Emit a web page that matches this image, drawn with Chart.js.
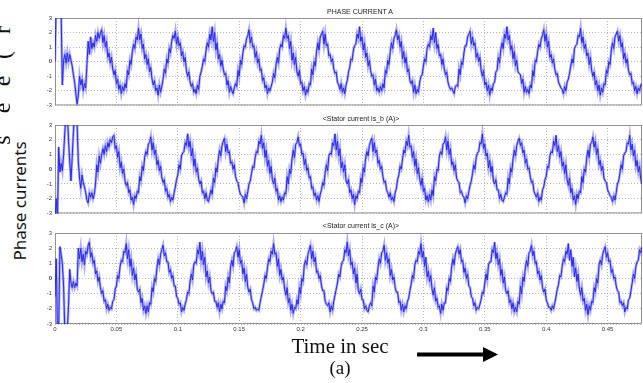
<!DOCTYPE html>
<html lang="en">
<head>
<meta charset="UTF-8">
<title>Phase currents</title>
<script src="https://cdn.jsdelivr.net/npm/chart.js"></script>
<style>
  body { margin: 0; background: #fff; }
  #page { position: relative; width: 643px; height: 383px; overflow: hidden; background: #fff; }
  .panel { position: absolute; left: 40px; width: 603px; }
  .ttl { position: absolute; width: 200px; text-align: center; font: 7px "Liberation Sans", sans-serif; color: #222; }
  .side { position: absolute; font: 17px "Noto Sans", sans-serif; color: #111; white-space: nowrap; transform: translate(-50%, -50%) rotate(-90deg); }
  .cut { position: absolute; font: 24px "Liberation Serif", serif; color: #111; transform: translate(-50%, -50%) rotate(-90deg); }
  .serif { position: absolute; font-family: "Liberation Serif", serif; color: #111; text-align: center; width: 200px; }
</style>
</head>
<body>
<div id="page">
  <div class="panel" style="top:0px;height:112px"><canvas id="pA" width="603" height="112"></canvas></div>
  <div class="panel" style="top:107px;height:113px"><canvas id="pB" width="603" height="113"></canvas></div>
  <div class="panel" style="top:215px;height:130px"><canvas id="pC" width="603" height="130"></canvas></div>

  <div class="ttl" style="left:260px;top:8px">PHASE CURRENT A</div>
  <div class="ttl" style="left:261px;top:115px">&lt;Stator current is_b (A)&gt;</div>
  <div class="ttl" style="left:261px;top:222px">&lt;Stator current is_c (A)&gt;</div>

  <div class="side" style="left:19px;top:201px">Phase currents</div>

  <div class="cut" style="left:2px;top:30px">r</div>
  <div class="cut" style="left:2px;top:55px">(</div>
  <div class="cut" style="left:2px;top:81px">e</div>
  <div class="cut" style="left:2px;top:108px">e</div>
  <div class="cut" style="left:2px;top:140px">s</div>

  <div class="serif" style="left:240px;top:334px;font-size:21px">Time in sec</div>
  <div class="serif" style="left:240px;top:357px;font-size:19px">(a)</div>
  <svg style="position:absolute;left:0;top:0" width="643" height="383">
    <line x1="417" y1="354.5" x2="485" y2="354.5" stroke="#000" stroke-width="4"/>
    <polygon points="483,347 498,354.5 483,362" fill="#000"/>
  </svg>
</div>

<script>
// sampling step of the recorded currents (s)
const dt = 0.001;
const tMax = 0.478;
const xTicks = [0, 0.05, 0.1, 0.15, 0.2, 0.25, 0.3, 0.35, 0.4, 0.45];
const yTicks = [-3, -2, -1, 0, 1, 2, 3];

// phase A current (A), top plot: start-up transient, then one row per cycle
const phaseA = [
  0.0, 4.0, 4.5, 4.5, 4.0, 3.2, -1.6, 0.1, 0.5, -0.1, 0.6, 0.0, 0.5, 0.1, -0.3, -0.9, -1.4, -2.2, -2.9, -2.3,
  -1.0, -1.6, -1.2, -2.0, -1.5, -1.8, -0.2, 1.4, 0.5, 1.7, 0.9, 1.3, 1.0, 1.8, 1.4, 2.0, 1.6, 2.0,
  2.2, 1.3, 1.8, 1.0, 1.4, 0.3, 0.6, -0.1, 0.3, -0.5, -0.9, -0.6, -1.5, -1.2, -1.9, -1.6, -2.2, -1.7, -2.0, -1.5, -1.8, -0.6, -0.9, 0.1, -0.2, 0.7, 1.2, 0.9, 1.7, 1.5,
  2.3, 1.5, 1.9, 0.9, 1.2, 0.2, 0.5, -0.2, 0.2, -0.7, -0.4, -1.2, -1.6, -1.3, -2.0, -1.8, -2.3, -1.6, -2.1, -1.7, -1.2, -0.5, -0.8, 0.2, -0.1, 0.9, 0.6, 1.4, 1.8, 1.6,
  2.1, 1.2, 1.7, 1.1, 1.3, 0.4, 0.7, 0.0, 0.3, -0.6, -1.0, -0.7, -1.4, -1.7, -1.5, -2.1, -1.9, -2.2, -1.6, -1.9, -1.0, -0.7, -0.3, 0.2, 0.0, 0.8, 1.3, 1.0, 1.9, 1.5,
  2.4, 1.4, 2.0, 0.8, 1.3, 0.2, 0.5, -0.3, 0.1, -0.5, -0.9, -0.8, -1.6, -1.3, -2.1, -1.7, -2.0, -2.2, -1.8, -1.5, -1.7, -0.6, -1.0, 0.1, -0.2, 0.6, 1.1, 1.0, 1.6, 1.8,
  2.2, 1.3, 1.7, 1.0, 1.1, 0.3, 0.7, -0.1, 0.2, -0.6, -0.5, -1.3, -1.1, -1.8, -1.6, -2.2, -1.8, -2.0, -1.7, -1.4, -0.8, -1.1, -0.2, 0.3, -0.1, 0.9, 1.2, 1.0, 1.8, 1.6,
  2.3, 1.6, 1.8, 0.9, 1.4, 0.1, 0.6, -0.2, 0.3, -0.7, -1.0, -0.6, -1.5, -1.4, -2.0, -1.7, -2.3, -1.9, -2.1, -1.5, -1.6, -0.5, -0.9, 0.0, -0.3, 0.7, 1.3, 0.8, 1.7, 1.9,
  2.1, 1.2, 1.9, 1.1, 1.2, 0.4, 0.5, 0.0, 0.2, -0.5, -0.8, -0.7, -1.4, -1.6, -1.9, -1.5, -2.1, -1.8, -2.2, -1.6, -1.3, -0.7, -0.4, 0.2, 0.1, 0.8, 1.1, 1.2, 1.9, 1.6,
  2.4, 1.4, 1.7, 0.8, 1.3, 0.3, 0.6, -0.3, 0.1, -0.6, -1.0, -0.9, -1.6, -1.2, -2.0, -1.8, -2.1, -1.7, -2.0, -1.5, -1.8, -0.6, -0.8, 0.1, -0.2, 0.7, 1.3, 0.9, 1.6, 1.8,
  2.2, 1.5, 1.8, 1.0, 1.4, 0.2, 0.7, -0.1, 0.3, -0.7, -0.5, -1.3, -1.5, -1.3, -2.1, -1.6, -2.2, -1.9, -2.1, -1.4, -1.0, -0.9, -0.3, 0.2, 0.0, 0.9, 1.2, 1.0, 1.8, 1.5,
  2.3, 1.3, 2.0, 0.9, 1.2, 0.4, 0.5, -0.2, 0.2, -0.5, -0.9, -0.7, -1.4, -1.7, -1.9, -1.8, -2.0, -2.2, -1.7, -1.6, -1.7, -0.5, -0.9, 0.0, -0.2, 0.6, 1.1, 1.1, 1.7, 1.9,
  2.1, 1.2, 1.7, 1.1, 1.3, 0.3, 0.6, 0.0, 0.3, -0.6, -1.0, -0.6, -1.6, -1.4, -2.0, -1.6, -2.3, -1.8, -2.0, -1.5, -1.4, -0.7, -0.6, 0.3, -0.1, 0.8, 1.3, 0.9, 1.9, 1.6,
  2.4, 1.5, 1.8, 0.8, 1.1, 0.2, 0.7, -0.3, 0.1, -0.7, -0.8, -0.9, -1.5, -1.2, -2.1, -1.7, -2.1, -1.9, -2.2, -1.6, -1.8, -0.6, -1.0, 0.1, 0.0, 0.7, 1.2, 1.0, 1.6, 1.8,
  2.2, 1.4, 1.9, 1.0, 1.4, 0.3, 0.5, -0.1, 0.2, -0.5, -0.9, -0.8, -1.4, -1.6, -1.8, -1.9, -2.2, -1.7, -2.0, -1.4, -1.2, -0.8, -0.3, 0.2, -0.1, 0.9, 1.1, 1.2, 1.8, 1.7,
  2.3, 1.3, 1.7, 0.9, 1.2, 0.4, 0.6, -0.2, 0.3, -0.6, -1.0, -0.7, -1.6, -1.3, -2.0, -1.6, -2.3, -1.8, -2.1, -1.5, -1.6, -0.6, -0.8, 0.0, -0.2, 0.8, 1.3, 0.9, 1.7, 1.9,
  2.1, 1.4, 1.8, 1.0, 1.3, 0.2, 0.6, -0.1, 0.2, -0.6, -0.9, -0.8, -1.5, -1.4, -2.0, -1.7, -2.2, -1.8, -2.0, -1.6, -1.5
];

// stator current is_b (A), middle plot
const phaseB = [
  -3.5, -2.0, -3.5, 1.5, -0.2, 0.4, -0.1, 1.0, 2.5, 4.0, 4.0, 2.0, 0.5, -0.8, 0.8, 2.5, 4.0, 4.0, 3.0, 0.5,
  -0.6, -1.3, -0.4, -0.9, -1.2, -1.6, -2.1, -2.3, -1.6, -1.9, -1.6, -2.0, -1.7, -1.0, 0.3, -0.2, 0.9, 0.4, 1.0, 1.4,
  1.0, 1.6, 1.2, 1.8, 1.5, 2.0, 1.8, 2.2,
  2.3, 1.4, 1.6, 0.8, 1.2, 0.1, 0.5, -0.3, 0.0, -0.8, -1.1, -0.9, -1.6, -1.4, -2.1, -1.9, -2.4, -1.8, -2.0, -1.5, -1.6, -0.5, -0.8, 0.2, -0.1, 0.8, 1.2, 1.0, 1.7, 1.8,
  2.2, 1.3, 1.8, 1.0, 1.3, 0.3, 0.6, -0.1, 0.2, -0.6, -0.9, -0.7, -1.5, -1.3, -1.9, -1.7, -2.2, -1.9, -2.1, -1.6, -1.2, -0.7, -0.4, 0.3, 0.0, 0.9, 1.1, 1.2, 1.8, 1.6,
  2.4, 1.5, 1.9, 0.9, 1.4, 0.2, 0.7, -0.2, 0.1, -0.7, -1.0, -0.8, -1.6, -1.5, -2.0, -1.6, -2.1, -2.2, -1.8, -1.4, -1.7, -0.6, -0.9, 0.1, -0.2, 0.7, 1.3, 0.9, 1.6, 1.9,
  2.1, 1.2, 1.7, 1.1, 1.2, 0.4, 0.5, 0.0, 0.3, -0.5, -0.8, -0.9, -1.4, -1.7, -1.8, -1.9, -2.3, -1.7, -2.0, -1.5, -1.0, -0.8, -0.3, 0.2, 0.1, 0.8, 1.2, 1.1, 1.9, 1.7,
  2.3, 1.4, 1.8, 0.8, 1.3, 0.2, 0.6, -0.3, 0.2, -0.7, -1.0, -0.6, -1.5, -1.3, -2.1, -1.8, -2.2, -1.9, -2.1, -1.6, -1.7, -0.5, -1.0, 0.0, -0.3, 0.7, 1.3, 0.8, 1.7, 1.8,
  2.2, 1.6, 1.7, 1.0, 1.1, 0.3, 0.7, -0.1, 0.1, -0.6, -0.5, -1.3, -1.2, -1.8, -1.6, -2.1, -1.8, -2.2, -1.7, -1.4, -0.9, -1.1, -0.2, 0.3, -0.1, 0.9, 1.1, 1.0, 1.8, 1.6,
  2.4, 1.3, 1.9, 0.9, 1.4, 0.1, 0.5, -0.2, 0.3, -0.8, -1.0, -0.7, -1.6, -1.4, -2.0, -1.7, -2.4, -1.8, -2.0, -1.5, -1.6, -0.6, -0.9, 0.1, -0.2, 0.8, 1.2, 0.9, 1.6, 1.9,
  2.1, 1.2, 1.8, 1.1, 1.3, 0.4, 0.6, 0.0, 0.2, -0.5, -0.9, -0.8, -1.4, -1.6, -1.9, -1.6, -2.1, -1.9, -2.2, -1.6, -1.3, -0.7, -0.4, 0.2, 0.0, 0.7, 1.3, 1.1, 1.9, 1.6,
  2.3, 1.5, 1.6, 0.8, 1.2, 0.2, 0.7, -0.3, 0.1, -0.7, -1.1, -0.6, -1.5, -1.3, -2.1, -1.8, -2.2, -1.7, -2.1, -1.4, -1.8, -0.5, -0.8, 0.0, -0.1, 0.9, 1.2, 1.0, 1.7, 1.8,
  2.2, 1.3, 1.9, 1.0, 1.4, 0.3, 0.5, -0.1, 0.3, -0.6, -0.8, -0.9, -1.6, -1.5, -1.8, -1.9, -2.3, -1.8, -2.0, -1.5, -1.1, -0.8, -0.3, 0.3, 0.0, 0.8, 1.1, 1.2, 1.8, 1.7,
  2.4, 1.4, 1.7, 0.9, 1.1, 0.1, 0.6, -0.2, 0.2, -0.8, -1.0, -0.7, -1.4, -1.4, -2.0, -1.7, -2.1, -2.2, -1.9, -1.6, -1.7, -0.6, -1.0, 0.1, -0.2, 0.7, 1.3, 0.9, 1.6, 1.9,
  2.1, 1.6, 1.8, 1.1, 1.3, 0.4, 0.7, 0.0, 0.1, -0.5, -0.9, -0.8, -1.5, -1.7, -1.9, -1.6, -2.2, -1.9, -2.1, -1.4, -1.2, -0.7, -0.5, 0.2, 0.1, 0.9, 1.2, 1.1, 1.9, 1.6,
  2.3, 1.2, 1.6, 0.8, 1.2, 0.2, 0.5, -0.3, 0.3, -0.7, -1.1, -0.6, -1.6, -1.3, -2.1, -1.8, -2.4, -1.7, -2.0, -1.5, -1.6, -0.5, -0.9, 0.0, -0.2, 0.8, 1.3, 0.8, 1.7, 1.8,
  2.2, 1.5, 1.9, 1.0, 1.4, 0.3, 0.6, -0.1, 0.2, -0.6, -0.8, -0.9, -1.4, -1.6, -1.8, -1.9, -2.2, -1.8, -2.1, -1.6, -1.0, -0.8, -0.3, 0.3, 0.0, 0.9, 1.1, 1.2, 1.8, 1.7,
  2.3, 1.3, 1.7, 0.9, 1.3, 0.2, 0.6, -0.2, 0.2, -0.7, -1.0
];

// stator current is_c (A), bottom plot
const phaseC = [
  -1.2, 1.3, -3.5, -3.5, 2.1, 1.6, 1.0, -0.5, -3.5, -3.5, -3.5, -1.8, 0.6, -0.3, -0.6, -0.2, -0.6, -0.3, -0.5, 2.0,
  1.3, 2.0, 1.1, 1.6, 0.9, 1.8, 1.6, 2.2,
  2.4, 1.4, 1.7, 1.0, 1.2, 0.3, 0.5, -0.2, 0.1, -0.6, -1.0, -0.8, -1.5, -1.4, -2.0, -1.7, -2.1, -1.9, -2.0, -1.5, -1.4, -0.7, -0.5, 0.2, 0.0, 0.8, 1.2, 1.1, 1.8, 1.7,
  2.3, 1.3, 1.9, 0.8, 1.3, 0.2, 0.7, -0.1, 0.3, -0.7, -0.9, -0.7, -1.6, -1.3, -2.1, -1.8, -2.3, -1.8, -2.2, -1.6, -1.7, -0.6, -0.9, 0.0, -0.2, 0.7, 1.3, 0.9, 1.6, 1.9,
  2.2, 1.5, 1.7, 1.1, 1.1, 0.4, 0.6, 0.0, 0.2, -0.5, -0.5, -1.2, -1.3, -1.7, -1.6, -2.2, -1.9, -2.1, -1.7, -1.4, -0.9, -1.0, -0.2, 0.3, -0.1, 0.9, 1.1, 1.0, 1.9, 1.6,
  2.4, 1.2, 1.8, 0.9, 1.4, 0.1, 0.5, -0.3, 0.1, -0.8, -1.0, -0.9, -1.5, -1.5, -1.9, -1.6, -2.2, -1.7, -2.0, -1.5, -1.6, -0.5, -0.8, 0.1, -0.3, 0.8, 1.2, 0.8, 1.7, 1.8,
  2.1, 1.4, 1.9, 1.0, 1.2, 0.3, 0.7, -0.2, 0.3, -0.6, -0.9, -0.7, -1.4, -1.6, -2.0, -1.9, -2.1, -2.0, -2.1, -1.6, -1.2, -0.8, -0.4, 0.2, 0.0, 0.7, 1.3, 1.1, 1.8, 1.6,
  2.3, 1.6, 1.7, 0.8, 1.3, 0.2, 0.6, -0.1, 0.1, -0.7, -1.1, -0.6, -1.6, -1.3, -2.1, -1.7, -2.3, -1.9, -2.0, -1.4, -1.7, -0.6, -1.0, 0.0, -0.2, 0.9, 1.2, 0.9, 1.6, 1.9,
  2.2, 1.3, 1.8, 1.1, 1.4, 0.4, 0.5, 0.0, 0.2, -0.5, -0.8, -0.8, -1.5, -1.7, -1.8, -1.6, -2.2, -1.8, -2.1, -1.5, -1.1, -0.7, -0.3, 0.3, 0.1, 0.8, 1.1, 1.2, 1.9, 1.7,
  2.4, 1.5, 1.9, 0.9, 1.1, 0.3, 0.7, -0.3, 0.3, -0.8, -1.0, -0.7, -1.4, -1.4, -2.0, -1.8, -2.1, -2.2, -1.8, -1.6, -1.8, -0.5, -0.9, 0.1, -0.1, 0.7, 1.3, 1.0, 1.7, 1.8,
  2.2, 1.2, 1.7, 1.0, 1.3, 0.2, 0.6, -0.1, 0.1, -0.6, -0.9, -0.9, -1.6, -1.5, -2.1, -1.7, -2.2, -1.8, -2.0, -1.5, -1.3, -0.8, -0.4, 0.2, 0.0, 0.9, 1.2, 1.1, 1.8, 1.6,
  2.3, 1.4, 1.8, 0.8, 1.4, 0.1, 0.5, -0.2, 0.2, -0.7, -1.1, -0.6, -1.5, -1.3, -1.9, -1.8, -2.3, -1.7, -2.1, -1.6, -1.6, -0.6, -0.8, 0.0, -0.2, 0.8, 1.3, 0.9, 1.6, 1.9,
  2.1, 1.6, 1.9, 1.1, 1.2, 0.4, 0.7, 0.0, 0.3, -0.5, -0.6, -1.2, -1.3, -1.8, -1.6, -2.1, -1.9, -2.0, -1.7, -1.4, -0.9, -1.0, -0.3, 0.3, -0.1, 0.9, 1.1, 1.1, 1.9, 1.7,
  2.4, 1.3, 1.7, 0.9, 1.3, 0.2, 0.6, -0.3, 0.1, -0.8, -1.0, -0.8, -1.6, -1.4, -2.0, -1.6, -2.2, -1.9, -2.2, -1.5, -1.7, -0.5, -1.0, 0.1, -0.2, 0.7, 1.2, 0.8, 1.7, 1.8,
  2.2, 1.5, 1.8, 1.0, 1.1, 0.3, 0.5, -0.1, 0.2, -0.6, -0.9, -0.7, -1.4, -1.6, -1.9, -1.9, -2.1, -1.8, -2.0, -1.6, -1.2, -0.7, -0.4, 0.2, 0.1, 0.8, 1.3, 1.1, 1.8, 1.6,
  2.3, 1.2, 1.9, 0.8, 1.4, 0.1, 0.7, -0.2, 0.3, -0.7, -1.1, -0.6, -1.5, -1.3, -2.1, -1.7, -2.4, -1.8, -2.1, -1.5, -1.6, -0.6, -0.9, 0.0, -0.3, 0.9, 1.2, 0.9, 1.6, 1.9,
  2.1, 1.4, 1.7, 1.1, 1.2, 0.4, 0.6, 0.0, 0.1, -0.5, -0.8, -0.9, -1.6, -1.5, -1.8, -1.6, -2.2, -1.9, -2.0, -1.4, -1.3, -0.8, -0.3, 0.3, 0.0, 0.8, 1.1, 1.2, 1.9, 1.7,
  2.1
];

// sample instants
const time = phaseA.map((v, i) => +(i * dt).toFixed(4));

Chart.defaults.font.family = '"Liberation Sans", sans-serif';

// grey box round each plot, like the scope axes
const frame = {
  id: 'frame',
  beforeDatasetsDraw(chart) {
    const a = chart.chartArea, g = chart.ctx;
    g.save();
    g.strokeStyle = '#939393';
    g.lineWidth = 1;
    g.strokeRect(a.left + 0.5, a.top + 0.5, a.right - a.left - 1, a.bottom - a.top - 1);
    g.restore();
  }
};

function makePanel(id, values, showX) {
  const pts = values.map((v, i) => ({ x: time[i], y: v }));
  return new Chart(document.getElementById(id), {
    type: 'line',
    data: {
      datasets: [
        // soft wide trace under the sharp one, as on the scope print
        { data: pts, borderColor: 'rgba(70,70,255,0.45)', borderWidth: 2.6, pointRadius: 0, tension: 0 },
        { data: pts, borderColor: '#0c0cf0', borderWidth: 1, pointRadius: 0, tension: 0 }
      ]
    },
    options: {
      responsive: false,
      animation: false,
      layout: { padding: { top: 18, right: 1, bottom: showX ? 0 : 3, left: 0 } },
      plugins: { legend: { display: false }, tooltip: { enabled: false } },
      scales: {
        x: {
          type: 'linear',
          min: 0,
          max: tMax,
          afterBuildTicks: s => { s.ticks = xTicks.map(v => ({ value: v })); },
          afterFit: s => { s.height = showX ? 21 : 0; },
          grid: { color: '#b8b8b8', drawTicks: false },
          border: { display: false, dash: [1, 2] },
          ticks: {
            display: showX,
            autoSkip: false,
            maxRotation: 0,
            padding: 2,
            color: '#333',
            font: { size: 6 },
            callback: v => String(+(+v).toFixed(2))
          }
        },
        y: {
          min: -3,
          max: 3,
          afterBuildTicks: s => { s.ticks = yTicks.map(v => ({ value: v })); },
          afterFit: s => { s.width = 15; },
          grid: { color: '#b8b8b8', drawTicks: false },
          border: { display: false, dash: [1, 2] },
          ticks: {
            autoSkip: false,
            padding: 3,
            color: '#444',
            // the zero label prints heavier on the original
            font: c => ({ size: 6, weight: c.tick && c.tick.value === 0 ? 'bold' : 'normal' })
          }
        }
      }
    },
    plugins: [frame]
  });
}

makePanel('pA', phaseA, false);
makePanel('pB', phaseB, false);
makePanel('pC', phaseC, true);
</script>
</body>
</html>
